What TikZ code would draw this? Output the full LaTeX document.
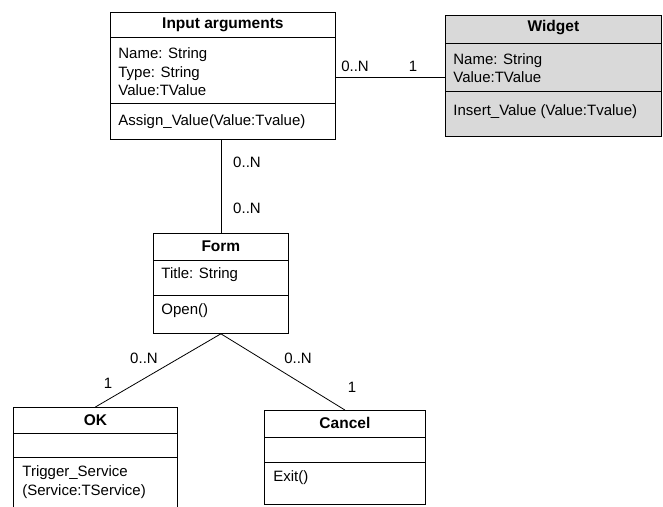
\documentclass[tikz,border=0pt]{standalone}
\usepackage{fontspec}
\setmainfont{Liberation Sans}
\begin{document}
\begin{tikzpicture}[x=1pt,y=-1pt,line width=0.8pt]
    \tikzstyle{umlbox}=[draw=black,fill=white,anchor=north west,inner sep=0pt]
    \tikzstyle{title}=[font=\fontsize{15.5}{18}\selectfont\bfseries,inner sep=0pt]
    \tikzstyle{member}=[font=\fontsize{15}{18.5}\selectfont,align=left,anchor=west,inner sep=0pt]
    \tikzstyle{mult}=[font=\fontsize{15}{18}\selectfont,inner sep=0pt]
    \clip (0,0) rectangle (663,506);

    % classes
    \node[umlbox,minimum width=225pt,minimum height=127pt] (inp) at (110,12) {};
    \node[umlbox,fill=gray!30,minimum width=216pt,minimum height=121pt] (wid) at (445,15) {};
    \node[umlbox,minimum width=135pt,minimum height=100pt] (frm) at (153,233) {};
    \node[umlbox,minimum width=164pt,minimum height=120pt] (ok) at (13,407) {};
    \node[umlbox,minimum width=161pt,minimum height=94pt] (cnc) at (264,410) {};

    \foreach \cls/\a/\b in {inp/25/91, wid/28/76, frm/27/62, ok/26/50, cnc/27/52}
        \foreach \d in {\a,\b}
            \draw ([yshift=-\d pt]\cls.north west) -- ([yshift=-\d pt]\cls.north east);

    \foreach \cls/\name in {inp/Input arguments, wid/Widget, frm/Form, ok/OK, cnc/Cancel}
        \node[title] (\cls-title) at ([yshift=-13pt]\cls.north) {\name};

    % members
    \node[member] (inp-attr) at ([xshift=8pt,yshift=-60pt]inp.north west) {Name: String\\Type: String\\Value:TValue};
    \node[member] (inp-op) at ([xshift=8pt,yshift=-110pt]inp.north west) {Assign\_Value(Value:Tvalue)};
    \node[member] (wid-attr) at ([xshift=8pt,yshift=-53pt]wid.north west) {Name: String\\Value:TValue};
    \node[member] (wid-op) at ([xshift=8pt,yshift=-97pt]wid.north west) {Insert\_Value (Value:Tvalue)};
    \node[member] (frm-attr) at ([xshift=8pt,yshift=-42pt]frm.north west) {Title: String};
    \node[member] (frm-op) at ([xshift=8pt,yshift=-78pt]frm.north west) {Open()};
    \node[member] (ok-op) at ([xshift=9pt,yshift=-75pt]ok.north west) {Trigger\_Service\\(Service:TService)};
    \node[member] (cnc-op) at ([xshift=9pt,yshift=-68pt]cnc.north west) {Exit()};

    % associations
    \draw ([yshift=-1pt]inp.east) -- ([yshift=-1pt]inp.east -| wid.west);
    \draw (inp.south -| frm.north) -- (frm.north);
    \draw (frm.south) -- (ok.north);
    \draw (frm.south) -- (cnc.north);

    \node[mult] (m-inp-wid) at (355,66) {0..N};
    \node[mult] (m-wid-inp) at (413,66) {1};
    \node[mult] (m-inp-frm) at (247,162) {0..N};
    \node[mult] (m-frm-inp) at (247,208) {0..N};
    \node[mult] (m-frm-ok) at (144,358) {0..N};
    \node[mult] (m-ok-frm) at (108,383) {1};
    \node[mult] (m-frm-cnc) at (298,358) {0..N};
    \node[mult] (m-cnc-frm) at (352,387) {1};
\end{tikzpicture}
\end{document}
